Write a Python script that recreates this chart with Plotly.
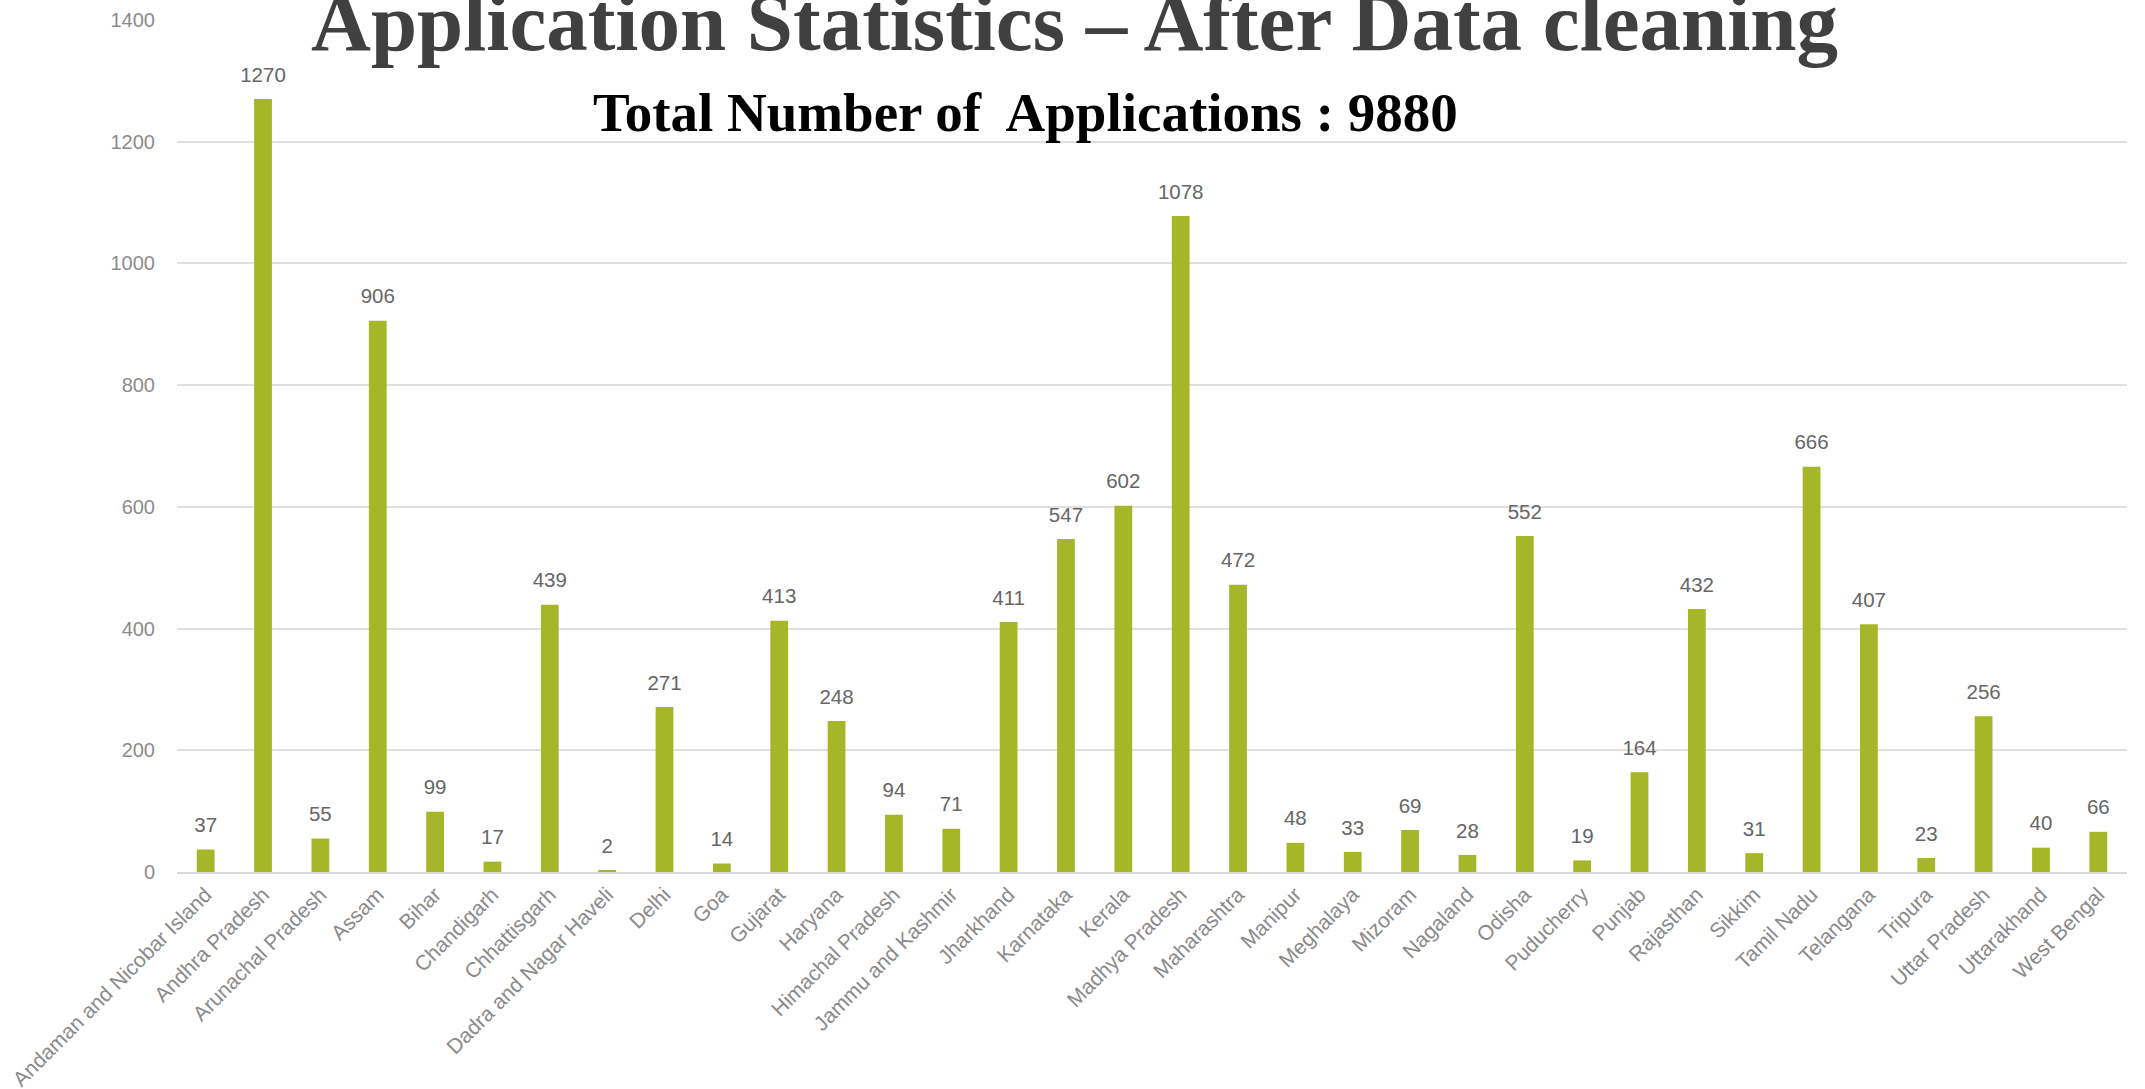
import plotly.graph_objects as go

states = ["Andaman and Nicobar Island", "Andhra Pradesh", "Arunachal Pradesh", "Assam", "Bihar",
          "Chandigarh", "Chhattisgarh", "Dadra and Nagar Haveli", "Delhi", "Goa", "Gujarat",
          "Haryana", "Himachal Pradesh", "Jammu and Kashmir", "Jharkhand", "Karnataka", "Kerala",
          "Madhya Pradesh", "Maharashtra", "Manipur", "Meghalaya", "Mizoram", "Nagaland", "Odisha",
          "Puducherry", "Punjab", "Rajasthan", "Sikkim", "Tamil Nadu", "Telangana", "Tripura",
          "Uttar Pradesh", "Uttarakhand", "West Bengal"]
applications = [37, 1270, 55, 906, 99, 17, 439, 2, 271, 14, 413, 248, 94, 71, 411, 547, 602,
                1078, 472, 48, 33, 69, 28, 552, 19, 164, 432, 31, 666, 407, 23, 256, 40, 66]
y_ticks = [0, 200, 400, 600, 800, 1000, 1200, 1400]

title_text = "Application Statistics – After Data cleaning"
subtitle_text = "Total Number of\u00a0 Applications : 9880"

fig = go.Figure()
fig.add_trace(go.Bar(
    x=states, y=applications,
    marker=dict(color="#A5B729", line=dict(width=0)),
    hoverinfo="x+y",
))
# value labels above the bars
fig.add_trace(go.Scatter(
    x=states, y=applications,
    mode="markers+text",
    marker=dict(size=18, color="rgba(0,0,0,0)"),
    text=[str(v) for v in applications],
    textposition="top center",
    cliponaxis=False,
    hoverinfo="skip",
    textfont=dict(family="Liberation Sans, Arial", size=20.5, color="#666666"),
))

fig.update_layout(
    width=2145, height=1089,
    margin=dict(l=177, r=18, t=20, b=217, autoexpand=False),
    plot_bgcolor="white", paper_bgcolor="white",
    bargap=0.69,
    showlegend=False,
    font=dict(family="Liberation Sans, Arial", color="#7f7f7f"),
    xaxis=dict(
        type="category",
        range=[-0.5, len(states) - 0.5],
        tickangle=-45,
        automargin=False,
        tickfont=dict(family="Liberation Sans, Arial", size=21, color="#8a8a8a"),
        showgrid=False,
        showline=True, linecolor="#d9d9d9", linewidth=2,
        ticks="",
    ),
    yaxis=dict(
        range=[0, 1400],
        automargin=False,
        tickvals=y_ticks,
        tickfont=dict(family="Liberation Sans, Arial", size=20, color="#8c8c8c"),
        showgrid=True, gridcolor="#e0e0e0", gridwidth=1.5,
        zeroline=False,
        showline=False,
        ticks="outside", ticklen=17, tickcolor="rgba(0,0,0,0)",
    ),
    annotations=[
        dict(text="<b>" + title_text + "</b>", xref="paper", yref="paper",
             x=0.46, y=0.9975, xanchor="center", yanchor="middle", showarrow=False,
             font=dict(family="Liberation Serif, Times New Roman, serif", size=83, color="#404040")),
        dict(text="<b>" + subtitle_text + "</b>", xref="paper", yref="paper",
             x=0.435, y=0.892, xanchor="center", yanchor="middle", showarrow=False,
             font=dict(family="Liberation Serif, Times New Roman, serif", size=55, color="#000000")),
    ],
)

fig.write_html("out.html", config={"displayModeBar": False},
               post_script="document.body.style.margin='0';document.body.style.overflow='hidden';")
